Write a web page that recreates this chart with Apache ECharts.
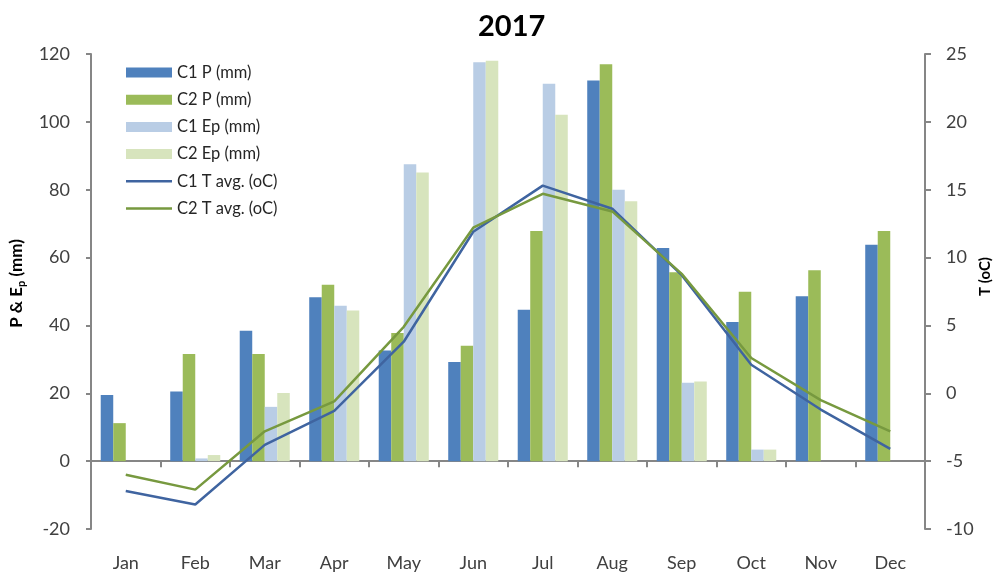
<!DOCTYPE html>
<html>
<head>
<meta charset="utf-8">
<script src="https://cdn.jsdelivr.net/npm/echarts@6/dist/echarts.min.js"></script>
<style>
  html, body { margin: 0; padding: 0; background: #fff; }
  #chart { width: 1000px; height: 576px; }
</style>
</head>
<body>
<div id="chart"></div>
<script>
// Monthly precipitation (P), potential evaporation (Ep) and mean temperature, 2017
const months = ['Jan', 'Feb', 'Mar', 'Apr', 'May', 'Jun', 'Jul', 'Aug', 'Sep', 'Oct', 'Nov', 'Dec'];
const c1P  = [19.5, 20.5, 38.4, 48.3, 32.6, 29.2, 44.6, 112.2, 62.8, 41.0, 48.6, 63.8];
const c2P  = [11.2, 31.6, 31.6, 52.0, 37.8, 34.0, 67.8, 117.0, 55.7, 49.9, 56.3, 67.8];
const c1Ep = [null, 0.8, 16.0, 45.8, 87.5, 117.6, 111.2, 80.0, 23.1, 3.4, null, null];
const c2Ep = [null, 1.8, 20.1, 44.4, 85.1, 118.0, 102.1, 76.6, 23.5, 3.4, null, null];
const c1T  = [-7.2, -8.2, -3.8, -1.3, 3.8, 11.9, 15.3, 13.6, 8.7, 2.1, -1.2, -4.1];
const c2T  = [-6.0, -7.1, -2.8, -0.6, 4.9, 12.2, 14.7, 13.4, 8.8, 2.6, -0.5, -2.8];

const leftTicks  = { min: -20, max: 120, interval: 20 };
const rightTicks = { min: -10, max: 25, interval: 5 };

const FONT = 'Lato, "Open Sans", sans-serif';
const AXIS_GREY = '#868686';
const TEXT = '#404040';
// thin horizontal stroke centred in the legend swatch box (zero-area points pad the bbox)
const LINE_ICON = 'path://M0,0L0.01,0L0,0Z M0,3.8L46,3.8L46,6.2L0,6.2Z M0,10L0.01,10L0,10Z';

const chart = echarts.init(document.getElementById('chart'), null, { renderer: 'canvas' });

const barSeries = (name, data, color) => ({
  name, type: 'bar', data,
  xAxisIndex: 0, yAxisIndex: 0,
  barGap: '0%', barCategoryGap: '28%',
  itemStyle: { color },
  emphasis: { disabled: true }
});
const lineSeries = (name, data, color) => ({
  name, type: 'line', data,
  xAxisIndex: 0, yAxisIndex: 1,
  symbol: 'none', smooth: false,
  lineStyle: { color, width: 2.5 },
  itemStyle: { color },
  emphasis: { disabled: true }
});

chart.setOption({
  animation: false,
  backgroundColor: '#fff',
  textStyle: { fontFamily: FONT },
  title: {
    text: '2017',
    left: 473, top: 7,
    textStyle: { fontFamily: FONT, fontWeight: 'bold', fontSize: 29, color: '#000' }
  },
  grid: { left: 91, right: 75, top: 54, bottom: 47, containLabel: false, outerBoundsMode: 'none' },
  legend: {
    orient: 'vertical',
    left: 126, top: 64,
    padding: 0,
    itemWidth: 46, itemHeight: 10,
    itemGap: 10.2,
    selectedMode: false,
    textStyle: { fontFamily: FONT, fontSize: 16.5, color: '#262626', lineHeight: 17 },
    data: [
      { name: 'C1 P (mm)', icon: 'rect' },
      { name: 'C2 P (mm)', icon: 'rect' },
      { name: 'C1 Ep (mm)', icon: 'rect' },
      { name: 'C2 Ep (mm)', icon: 'rect' },
      { name: 'C1 T avg. (oC)', icon: LINE_ICON },
      { name: 'C2 T avg. (oC)', icon: LINE_ICON }
    ]
  },
  xAxis: [{
    // axis line and boundary ticks, drawn through the zero of the left axis
    type: 'category',
    data: months,
    position: 'bottom',
    boundaryGap: true,
    axisLine: { show: true, onZero: true, onZeroAxisIndex: 0, lineStyle: { color: AXIS_GREY, width: 2 } },
    axisTick: { show: true, inside: false, length: 6, alignWithLabel: false, lineStyle: { color: AXIS_GREY, width: 2 } },
    axisLabel: { show: false },
    splitLine: { show: false }
  }, {
    // month labels along the bottom edge of the plot
    type: 'category',
    data: months,
    position: 'bottom',
    boundaryGap: true,
    axisLine: { show: false, onZero: false },
    axisTick: { show: false },
    axisLabel: { show: true, margin: 25, fontFamily: FONT, fontSize: 18, color: TEXT },
    splitLine: { show: false }
  }],
  yAxis: [{
    type: 'value',
    position: 'left',
    min: leftTicks.min, max: leftTicks.max, interval: leftTicks.interval,
    name: '{a|P & E}{b|p}{a| (mm)}',
    nameLocation: 'middle',
    nameRotate: 90,
    nameGap: 64,
    nameMoveOverlap: false,
    nameTextStyle: {
      padding: [0, 0, 0, 16],
      rich: {
        a: { fontFamily: FONT, fontWeight: 'bold', fontSize: 17, color: '#000' },
        b: { fontFamily: FONT, fontWeight: 'bold', fontSize: 11, color: '#000', padding: [9, 0, 0, 0] }
      }
    },
    axisLine: { show: true, lineStyle: { color: AXIS_GREY, width: 2 } },
    axisTick: { show: true, inside: false, length: 5, lineStyle: { color: AXIS_GREY, width: 2 } },
    axisLabel: { margin: 21, fontFamily: FONT, fontSize: 18, color: TEXT },
    splitLine: { show: false }
  }, {
    type: 'value',
    position: 'right',
    min: rightTicks.min, max: rightTicks.max, interval: rightTicks.interval,
    name: 'T (oC)',
    nameLocation: 'middle',
    nameRotate: 90,
    nameGap: 53,
    nameMoveOverlap: false,
    nameTextStyle: { fontFamily: FONT, fontWeight: 'bold', fontSize: 15, color: '#000', padding: [0, 0, 0, 30] },
    axisLine: { show: true, lineStyle: { color: AXIS_GREY, width: 2 } },
    axisTick: { show: true, inside: false, length: 6, lineStyle: { color: AXIS_GREY, width: 2 } },
    axisLabel: { margin: 21, fontFamily: FONT, fontSize: 18, color: TEXT },
    splitLine: { show: false }
  }],
  series: [
    barSeries('C1 P (mm)', c1P, '#4F81BD'),
    barSeries('C2 P (mm)', c2P, '#9BBB59'),
    barSeries('C1 Ep (mm)', c1Ep, '#B9CDE5'),
    barSeries('C2 Ep (mm)', c2Ep, '#D7E4BD'),
    lineSeries('C1 T avg. (oC)', c1T, '#3F64A0'),
    lineSeries('C2 T avg. (oC)', c2T, '#77993F')
  ]
});
</script>
</body>
</html>
